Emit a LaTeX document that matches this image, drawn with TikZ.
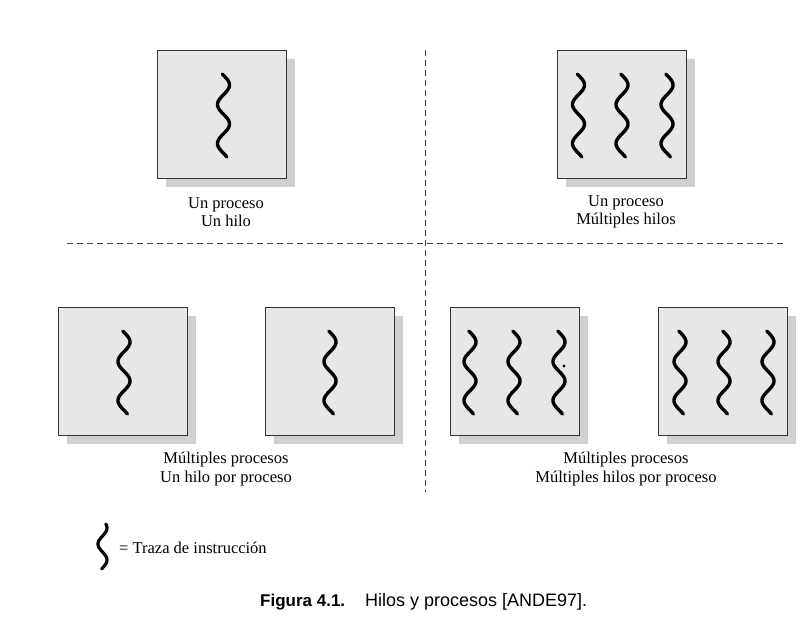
\documentclass[tikz,border=0pt]{standalone}
\usepackage{fontspec}
\setmainfont{Liberation Serif}
\newfontfamily\capfont{Liberation Sans}
\usetikzlibrary{shadows}
\definecolor{boxgray}{HTML}{E6E7E9}
\definecolor{shadegray}{HTML}{D0D0D2}
\definecolor{edgegray}{HTML}{333333}
\tikzset{
  procbox/.style={draw=edgegray, line width=0.9pt, fill=boxgray,
    minimum width=129pt, minimum height=128pt, inner sep=0pt, outer sep=0pt,
    drop shadow={shadow xshift=9pt, shadow yshift=-9pt, fill=shadegray, opacity=1}},
  lbl/.style={font=\fontsize{16.5}{18.5}\selectfont, align=center, inner sep=0pt},
  sep/.style={dash pattern=on 6pt off 4pt, line width=0.8pt, black!75},
  squig/.pic={\draw[line width=3.4pt, line cap=round] plot[domain=0:83, samples=90, smooth] ({6*cos((\x-11)*9.2308)}, \x);},
  minisquig/.pic={\draw[line width=3.2pt, line cap=round] plot[domain=0:45, samples=60, smooth] ({4.5*cos((\x-4)*11.25)}, \x);}
}
\begin{document}
\begin{tikzpicture}[x=1pt, y=-1pt]
\useasboundingbox (0,0) rectangle (809,621);
% separators
\coordinate (vt) at (425,50);
\coordinate (vb) at (425,492);
\coordinate (hl) at (67,243);
\coordinate (hr) at (787,243);
\draw[sep] (vt) -- (vb);
\draw[sep] (hl) -- (hr);
% boxes
\node[procbox] (b1) at (221.5,114) {};
\node[procbox] (b2) at (621.5,114) {};
\node[procbox] (b3) at (122.5,371) {};
\node[procbox] (b4) at (329.5,371) {};
\node[procbox] (b5) at (514.5,371) {};
\node[procbox] (b6) at (722.5,371) {};
% squiggles
\pic at (223.5,74) {squig};
\pic at (578.5,74) {squig};
\pic at (622,74) {squig};
\pic at (667,74) {squig};
\pic at (124,331) {squig};
\pic at (330,331) {squig};
\pic at (470,331) {squig};
\pic at (514,331) {squig};
\pic at (559,331) {squig};
\pic at (680,331) {squig};
\pic at (724,331) {squig};
\pic at (768,331) {squig};
\fill (564,366) circle (1.6pt);
% labels
\node[lbl] (l1) at (226,212) {Un proceso\\Un hilo};
\node[lbl] (l2) at (626,212) {Un proceso\\Múltiples hilos};
\node[lbl] (l3) at (226,469) {Múltiples procesos\\Un hilo por proceso};
\node[lbl] (l4) at (626,469) {Múltiples procesos\\Múltiples hilos por proceso};
% legend
\pic at (102.5,524) {minisquig};
\node[lbl, anchor=base west] (leg) at (119,553) {= Traza de instrucción};
% caption
\node[anchor=base west, inner sep=0pt, font=\capfont\fontsize{17}{20}\selectfont\bfseries] (capa) at (260,606) {Figura 4.1.};
\node[anchor=base west, inner sep=0pt, font=\capfont\fontsize{18}{20}\selectfont] (capb) at (365,606) {Hilos y procesos [ANDE97].};
\end{tikzpicture}
\end{document}
